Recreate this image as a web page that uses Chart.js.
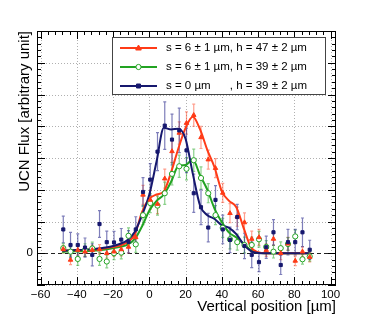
<!DOCTYPE html>
<html>
<head>
<meta charset="utf-8">
<script src="https://cdn.jsdelivr.net/npm/chart.js@4.4.1/dist/chart.umd.min.js"></script>
<style>
  html, body { margin: 0; padding: 0; background: #fff; }
  canvas { display: block; }
</style>
</head>
<body>
<canvas id="myChart" width="374" height="317"></canvas>
<script>
// measured positions (µm)
const xPos = [-47.5, -43.5, -39.5, -35.5, -31.5, -27.5, -23.5, -19.5, -15.5, -11.5, -7.5, -3.5,
    0.5, 4.5, 8.5, 12.5, 16.5, 20.5, 24.5, 28.5, 32.5, 36.5, 40.5, 44.5, 48.5, 52.5, 56.5,
    60.5, 64.5, 68.5, 72.5, 76.5, 80.5, 84.5, 88.5];

// s = 6 ± 1 µm, h = 47 ± 2 µm
const redY = [0.13, -0.21, 0.1, 0.05, 0.1, 0.12, 0.0, 0.05, 0.12, 0.2, 0.5, 1.84,
    1.68, 1.55, 2.35, 3.21, 3.79, 4.1, 4.35, 3.65, 2.95, 2.68, 1.9, 1.26, 1.15, 0.97, 0.45,
    0.5, 0.1, 0.45, 0.0, 0.3, -0.24, 0.05, -0.12];
const redErr = [0.12, 0.15, 0.15, 0.15, 0.15, 0.15, 0.15, 0.15, 0.2, 0.2, 0.25, 0.3,
    0.3, 0.3, 0.3, 0.35, 0.35, 0.35, 0.35, 0.35, 0.3, 0.3, 0.3, 0.3, 0.3, 0.3, 0.25,
    0.25, 0.2, 0.2, 0.2, 0.2, 0.15, 0.15, 0.15];

// s = 6 ± 1 µm, h = 39 ± 2 µm
const greenY = [0.16, 0.05, -0.18, 0.1, 0.15, -0.18, -0.26, 0.0, 0.02, 0.55, 0.28, 1.2,
    1.58, 1.5, 1.89, 2.5, 2.74, 2.66, 2.93, 2.37, 1.89, 1.2, 0.8, 0.44, 0.35, 0.26, 0.26,
    0.44, 0.2, 0.05, 0.16, 0.29, 0.53, -0.19, -0.1];
const greenErr = [0.15, 0.15, 0.2, 0.2, 0.2, 0.2, 0.2, 0.2, 0.2, 0.25, 0.25, 0.3,
    0.3, 0.3, 0.35, 0.35, 0.35, 0.35, 0.35, 0.35, 0.3, 0.3, 0.3, 0.3, 0.25, 0.25, 0.25,
    0.25, 0.2, 0.2, 0.2, 0.2, 0.2, 0.15, 0.15];

// s = 0 µm, h = 39 ± 2 µm
const blueY = [0.75, 0.26, 0.26, 0.18, -0.05, 0.92, 0.35, 0.34, 0.43, 0.36, 0.75, 1.93,
    2.32, 3.2, 4.02, 3.58, 3.87, 3.24, 1.89, 1.45, 0.81, 1.68, 0.75, 0.42, 1.14, 0.23, -0.05,
    -0.28, 0.19, 0.66, -0.37, 0.35, 0.35, 0.66, 0.11];
const blueErr = [0.42, 0.4, 0.35, 0.3, 0.35, 0.42, 0.35, 0.35, 0.35, 0.35, 0.4, 0.45,
    0.5, 0.6, 0.75, 0.8, 0.7, 0.7, 0.6, 0.55, 0.45, 0.45, 0.45, 0.4, 0.4, 0.4, 0.4,
    0.3, 0.35, 0.4, 0.3, 0.4, 0.4, 0.45, 0.3];

// fitted curves
const fitX = [-48, -40, -32, -24, -16, -12, -8, -4, 0, 4, 8, 12, 16, 20, 24, 28, 32, 36,
    40, 44, 48, 52, 56, 60, 64, 72, 80, 88];
const redFit = [0.08, 0.1, 0.12, 0.16, 0.25, 0.35, 0.6, 1.3, 1.72, 1.85, 1.95, 2.55, 3.3,
    3.95, 4.3, 3.9, 3.25, 2.7, 1.95, 1.65, 1.45, 0.8, 0.2, 0.03, 0, 0, 0, 0];
const greenFit = [0.05, 0.06, 0.08, 0.12, 0.2, 0.27, 0.45, 0.85, 1.35, 1.65, 1.85, 2.25,
    2.75, 2.78, 2.95, 2.45, 2.0, 1.4, 0.98, 0.65, 0.5, 0.3, 0.1, 0.02, 0, 0, 0, 0];
const blueFit = [0.08, 0.1, 0.13, 0.18, 0.3, 0.42, 0.68, 1.2, 1.85, 2.9, 3.95, 3.9, 3.92,
    3.6, 2.5, 1.5, 1.2, 1.08, 0.88, 0.8, 0.6, 0.28, 0.07, 0.01, 0, 0, 0, 0];

const xTicks = [-60, -40, -20, 0, 20, 40, 60, 80, 100];
const yTicks = [-1, 0, 1, 2, 3, 4, 5, 6, 7];
const yTickLabels = {0: '0'};

const legendLabels = [
    's = 6 \u00b1 1 \u00b5m, h = 47 \u00b1 2 \u00b5m',
    's = 6 \u00b1 1 \u00b5m, h = 39 \u00b1 2 \u00b5m',
    's = 0 \u00b5m      , h = 39 \u00b1 2 \u00b5m'
];

const RED = '#ff3b17';
const GREEN = '#22a322';
const NAVY = '#16186e';
const FONT = "'Liberation Sans', Arial, sans-serif";

const toXY = (xs, ys) => xs.map((x, i) => ({x: x, y: ys[i]}));

const series = [
    {y: redY, err: redErr, color: RED, bar: 'rgba(255,80,50,0.55)', style: 'triangle', fill: RED},
    {y: greenY, err: greenErr, color: GREEN, bar: 'rgba(40,170,40,0.55)', style: 'circle', fill: '#fff'},
    {y: blueY, err: blueErr, color: NAVY, bar: 'rgba(40,40,140,0.6)', style: 'rect', fill: NAVY}
];

function marker(ctx, s, px, py) {
    ctx.fillStyle = s.fill;
    ctx.strokeStyle = s.color;
    ctx.lineWidth = 1;
    ctx.beginPath();
    if (s.style === 'circle') { ctx.arc(px, py, 2.6, 0, Math.PI * 2); }
    else if (s.style === 'rect') { ctx.rect(px - 2, py - 2, 4, 4); }
    else { ctx.moveTo(px, py - 3); ctx.lineTo(px + 2.8, py + 2); ctx.lineTo(px - 2.8, py + 2); ctx.closePath(); }
    ctx.fill();
    ctx.stroke();
}

const framePlugin = {
    id: 'frame',
    beforeDatasetsDraw(c) {
        const {ctx, chartArea: a, scales: {x, y}} = c;
        ctx.save();
        ctx.strokeStyle = '#b0b0b0';
        ctx.lineWidth = 1;
        ctx.setLineDash([1, 2]);
        xTicks.forEach(v => {
            const px = Math.round(x.getPixelForValue(v)) + 0.5;
            ctx.beginPath(); ctx.moveTo(px, a.top); ctx.lineTo(px, a.bottom); ctx.stroke();
        });
        yTicks.forEach(v => {
            if (v === 0) return;
            const py = Math.round(y.getPixelForValue(v)) + 0.5;
            ctx.beginPath(); ctx.moveTo(a.left, py); ctx.lineTo(a.right, py); ctx.stroke();
        });
        // zero line
        ctx.strokeStyle = '#222';
        ctx.setLineDash([4, 3]);
        const y0 = Math.round(y.getPixelForValue(0)) + 0.5;
        ctx.beginPath(); ctx.moveTo(a.left, y0); ctx.lineTo(a.right, y0); ctx.stroke();
        ctx.setLineDash([]);

        // error bars
        series.forEach(s => {
            ctx.strokeStyle = s.bar;
            ctx.lineWidth = 1.2;
            xPos.forEach((xv, i) => {
                const px = x.getPixelForValue(xv);
                const top = y.getPixelForValue(s.y[i] + s.err[i]);
                const bot = y.getPixelForValue(s.y[i] - s.err[i]);
                ctx.beginPath();
                ctx.moveTo(px, top); ctx.lineTo(px, bot);
                ctx.moveTo(px - 1.5, top); ctx.lineTo(px + 1.5, top);
                ctx.moveTo(px - 1.5, bot); ctx.lineTo(px + 1.5, bot);
                ctx.stroke();
            });
        });
        ctx.restore();
    },
    afterDatasetsDraw(c) {
        const {ctx, chartArea: a, scales: {x, y}} = c;
        ctx.save();
        ctx.strokeStyle = '#000';
        ctx.lineWidth = 1;
        ctx.strokeRect(a.left + 0.5, a.top + 0.5, a.right - a.left - 1, a.bottom - a.top - 1);
        ctx.beginPath();
        for (let v = -60; v <= 100; v += 4) {
            const px = Math.round(x.getPixelForValue(v)) + 0.5;
            const len = v % 20 === 0 ? 8 : 4;
            ctx.moveTo(px, a.bottom); ctx.lineTo(px, a.bottom - len);
            ctx.moveTo(px, a.top); ctx.lineTo(px, a.top + len);
        }
        for (let k = -5; k <= 35; k++) {
            const v = k / 5;
            const py = Math.round(y.getPixelForValue(v)) + 0.5;
            const len = k % 5 === 0 ? 8 : 4;
            ctx.moveTo(a.left, py); ctx.lineTo(a.left + len, py);
            ctx.moveTo(a.right, py); ctx.lineTo(a.right - len, py);
        }
        ctx.stroke();
        ctx.restore();
    },
    afterDraw(c) {
        const {ctx, chartArea: a} = c;
        ctx.save();
        ctx.fillStyle = '#000';
        // axis titles
        ctx.font = '15px ' + FONT;
        ctx.textAlign = 'right';
        ctx.textBaseline = 'middle';
        ctx.fillText('Vertical position [\u00b5m]', a.right, 307);
        ctx.translate(25, a.top);
        ctx.rotate(-Math.PI / 2);
        ctx.fillText('UCN Flux [arbitrary unit]', 0, 0);
        ctx.restore();

        // legend
        ctx.save();
        const bx = 112, by = 37, bw = 213, bh = 57;
        ctx.fillStyle = '#fff';
        ctx.fillRect(bx, by, bw, bh);
        ctx.strokeStyle = '#444';
        ctx.lineWidth = 1;
        ctx.strokeRect(bx + 0.5, by + 0.5, bw, bh);
        ctx.font = '11.5px ' + FONT;
        ctx.textAlign = 'left';
        ctx.textBaseline = 'middle';
        legendLabels.forEach((t, i) => {
            const s = series[i];
            const ly = by + 11 + i * 19;
            ctx.strokeStyle = s.color;
            ctx.lineWidth = 2;
            ctx.beginPath(); ctx.moveTo(120, ly); ctx.lineTo(157, ly); ctx.stroke();
            marker(ctx, s, 138.5, ly);
            ctx.fillStyle = '#000';
            ctx.fillText(t, 166, ly);
        });
        ctx.restore();
    }
};

const fitDataset = (ys, color) => ({
    data: toXY(fitX, ys),
    showLine: true,
    borderColor: color,
    borderWidth: 2,
    pointRadius: 0,
    cubicInterpolationMode: 'monotone'
});
const markDataset = (s) => ({
    data: toXY(xPos, s.y),
    showLine: false,
    pointStyle: s.style,
    pointRadius: s.style === 'rect' ? 2.2 : 2.6,
    pointBackgroundColor: s.fill,
    pointBorderColor: s.color,
    pointBorderWidth: 1
});

const chart = new Chart(document.getElementById('myChart').getContext('2d'), {
    type: 'scatter',
    data: {
        datasets: [
            markDataset(series[2]),
            markDataset(series[0]),
            markDataset(series[1]),
            fitDataset(blueFit, NAVY),
            fitDataset(redFit, RED),
            fitDataset(greenFit, GREEN)
        ]
    },
    options: {
        responsive: false,
        animation: false,
        devicePixelRatio: 1,
        layout: {padding: {top: 31, right: 38, left: 0, bottom: 0}},
        plugins: {legend: {display: false}, tooltip: {enabled: false}},
        scales: {
            x: {
                type: 'linear', min: -62, max: 103,
                afterBuildTicks: s => { s.ticks = xTicks.map(v => ({value: v})); },
                afterFit: s => { s.height = 32; },
                grid: {display: false, drawTicks: false},
                border: {display: false},
                ticks: {
                    font: {family: FONT, size: 11.5}, color: '#000', padding: 3,
                    maxRotation: 0, autoSkip: false,
                    callback: v => (v < 0 ? '\u2212' + Math.abs(v) : String(v))
                }
            },
            y: {
                type: 'linear', min: -1, max: 7,
                afterBuildTicks: s => { s.ticks = yTicks.map(v => ({value: v})); },
                afterFit: s => { s.width = 37; },
                grid: {display: false, drawTicks: false},
                border: {display: false},
                ticks: {
                    font: {family: FONT, size: 11.5}, color: '#000', padding: 4,
                    autoSkip: false,
                    callback: v => yTickLabels[v] || ''
                }
            }
        }
    },
    plugins: [framePlugin]
});
</script>
</body>
</html>
